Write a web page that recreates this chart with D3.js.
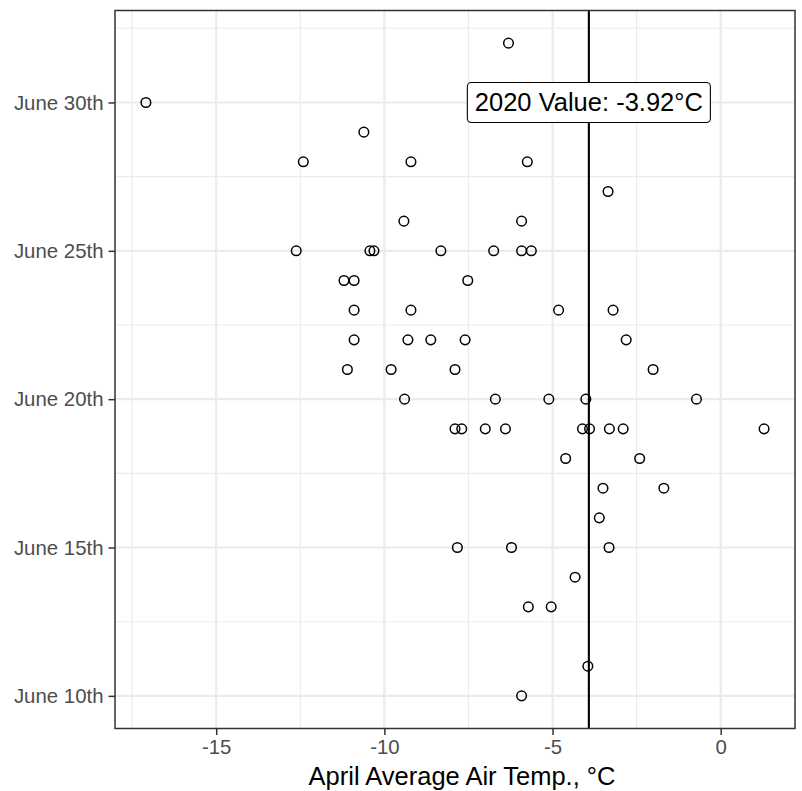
<!DOCTYPE html>
<html>
<head>
<meta charset="utf-8">
<script src="https://cdn.jsdelivr.net/npm/d3@7"></script>
<style>
  body { margin: 0; background: #fff; }
  svg { display: block; font-family: "Liberation Sans", Arial, sans-serif; }
</style>
</head>
<body>
<div id="chart"></div>
<script>
// day of the ice-out (June day number, 32 = July 2nd) and April average air temp
var iceOutDay = [32, 30, 29, 28, 28, 28, 27, 26, 26,
  25, 25, 25, 25, 25, 25, 25, 24, 24, 24, 23, 23, 23, 23,
  22, 22, 22, 22, 22, 21, 21, 21, 21, 20, 20, 20, 20, 20,
  19, 19, 19, 19, 19, 19, 19, 19, 19, 18, 18, 17, 17, 16,
  15, 15, 15, 14, 13, 13, 11, 10];
var aprilTemp = [-6.31, -17.09, -10.61, -12.41, -9.21, -5.75, -3.35, -9.42, -5.92,
  -12.62, -10.43, -10.31, -8.32, -6.75, -5.92, -5.63, -11.20, -10.90, -7.52, -10.90, -9.21, -4.82, -3.20,
  -10.90, -9.30, -8.62, -7.60, -2.81, -11.10, -9.80, -7.90, -2.01, -9.40, -6.70, -5.11, -4.01, -0.72,
  -7.90, -7.70, -7.00, -6.40, -4.11, -3.90, -3.31, -2.90, 1.29, -4.61, -2.41, -3.50, -1.69, -3.61,
  -7.83, -6.22, -3.32, -4.33, -5.72, -5.04, -3.95, -5.92];

var yTicks = [10, 15, 20, 25, 30];
var yTickLabels = ["June 10th", "June 15th", "June 20th", "June 25th", "June 30th"];
var xTicks = [-15, -10, -5, 0];
var value2020 = -3.92;

var W = 802, H = 791;
var panel = {left: 115, right: 795, top: 10.5, bottom: 728.5};

var data = iceOutDay.map(function(d, i) { return {day: d, temp: aprilTemp[i]}; });

// ggplot style 5% expansion
function expand(ext) {
  var pad = (ext[1] - ext[0]) * 0.05;
  return [ext[0] - pad, ext[1] + pad];
}

var x = d3.scaleLinear()
  .domain(expand(d3.extent(aprilTemp)))
  .range([panel.left, panel.right]);
var y = d3.scaleLinear()
  .domain(expand(d3.extent(iceOutDay)))
  .range([panel.bottom, panel.top]);

var svg = d3.select("#chart").append("svg")
  .attr("width", W).attr("height", H);

svg.append("rect").attr("width", W).attr("height", H).attr("fill", "#fff");

var xMinor = [-17.5, -12.5, -7.5, -2.5, 2.5].filter(function(v) {
  return v > x.domain()[0] && v < x.domain()[1]; });
var yMinor = [12.5, 17.5, 22.5, 27.5, 32.5].filter(function(v) {
  return v > y.domain()[0] && v < y.domain()[1]; });

var grid = svg.append("g");
grid.selectAll(".xminor").data(xMinor).enter().append("line")
  .attr("x1", x).attr("x2", x)
  .attr("y1", panel.top).attr("y2", panel.bottom)
  .attr("stroke", "#ebebeb").attr("stroke-width", 1.1);
grid.selectAll(".yminor").data(yMinor).enter().append("line")
  .attr("y1", y).attr("y2", y)
  .attr("x1", panel.left).attr("x2", panel.right)
  .attr("stroke", "#ebebeb").attr("stroke-width", 1.1);
grid.selectAll(".xmajor").data(xTicks).enter().append("line")
  .attr("x1", x).attr("x2", x)
  .attr("y1", panel.top).attr("y2", panel.bottom)
  .attr("stroke", "#ebebeb").attr("stroke-width", 2.2);
grid.selectAll(".ymajor").data(yTicks).enter().append("line")
  .attr("y1", y).attr("y2", y)
  .attr("x1", panel.left).attr("x2", panel.right)
  .attr("stroke", "#ebebeb").attr("stroke-width", 2.2);

// points
svg.append("g").selectAll("circle")
  .data(data).enter().append("circle")
  .attr("cx", function(d) { return x(d.temp); })
  .attr("cy", function(d) { return y(d.day); })
  .attr("r", 4.8)
  .attr("fill", "none")
  .attr("stroke", "#000")
  .attr("stroke-width", 1.5);

// 2020 line
svg.append("line")
  .attr("x1", x(value2020)).attr("x2", x(value2020))
  .attr("y1", panel.top).attr("y2", panel.bottom)
  .attr("stroke", "#000").attr("stroke-width", 2.1);

// label
var lab = svg.append("g");
var labText = lab.append("text")
  .attr("x", x(value2020))
  .attr("y", y(30) + 9)
  .attr("text-anchor", "middle")
  .attr("font-size", 25.5)
  .attr("fill", "#000")
  .text("2020 Value: " + value2020 + "°C");
var bb = labText.node().getBBox();
lab.insert("rect", "text")
  .attr("x", x(value2020) - bb.width / 2 - 7.5)
  .attr("y", y(30) - 20)
  .attr("width", bb.width + 15)
  .attr("height", 40)
  .attr("rx", 4).attr("ry", 4)
  .attr("fill", "#fff")
  .attr("stroke", "#000")
  .attr("stroke-width", 1.1);

// panel border
svg.append("rect")
  .attr("x", panel.left).attr("y", panel.top)
  .attr("width", panel.right - panel.left)
  .attr("height", panel.bottom - panel.top)
  .attr("fill", "none")
  .attr("stroke", "#333").attr("stroke-width", 1.5);

// axes
var xAxis = svg.append("g")
  .attr("transform", "translate(0," + panel.bottom + ")")
  .call(d3.axisBottom(x).tickValues(xTicks).tickSize(6.5).tickPadding(5)
    .tickFormat(function(d) { return d < 0 ? "-" + Math.abs(d) : d; }));
var yAxis = svg.append("g")
  .attr("transform", "translate(" + panel.left + ",0)")
  .call(d3.axisLeft(y).tickValues(yTicks).tickSize(6.5).tickPadding(5)
    .tickFormat(function(d, i) { return yTickLabels[i]; }));

[xAxis, yAxis].forEach(function(ax) {
  ax.select(".domain").remove();
  ax.selectAll("line").attr("stroke", "#333").attr("stroke-width", 1.5);
  ax.selectAll("text")
    .attr("fill", "#4d4d4d")
    .style("font-size", "20.4px")
    .style("font-family", "Liberation Sans, Arial, sans-serif");
});

// x title
svg.append("text")
  .attr("x", (panel.left + panel.right) / 2 + 7)
  .attr("y", 785)
  .attr("text-anchor", "middle")
  .attr("font-size", 25.5)
  .attr("fill", "#000")
  .text("April Average Air Temp., °C");
</script>
</body>
</html>
